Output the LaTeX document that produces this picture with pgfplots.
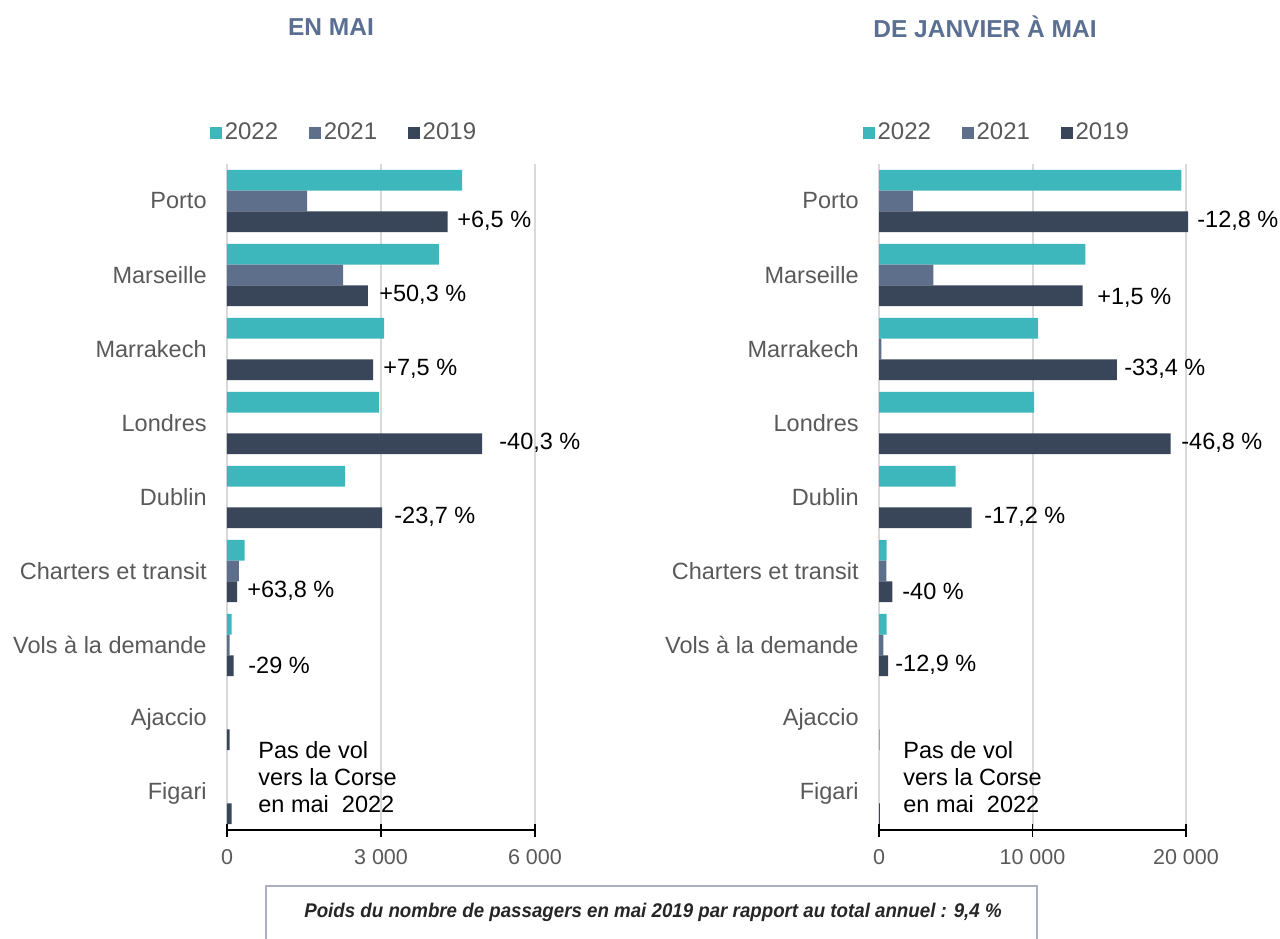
\documentclass[border=0pt]{standalone}
\usepackage{pgfplots}
\pgfplotsset{compat=1.18}
\usepackage{fontspec}
\setmainfont{Liberation Sans}
\definecolor{c22}{HTML}{3DB7BC}
\definecolor{c21}{HTML}{5E6F8B}
\definecolor{c19}{HTML}{394558}
\definecolor{ctitle}{HTML}{5A6F91}
\definecolor{cgray}{HTML}{595959}
\definecolor{cgrid}{HTML}{D9D9D9}
\definecolor{cbox}{HTML}{A9B1C2}
\pgfplotsset{
  mybar/.style={
    xbar, bar width=10.35pt, scale only axis, height=333pt,
    xmin=0, ymin=-0.5, ymax=8.5, ytick={0,...,8},
    yticklabels={Figari,Ajaccio,Vols à la demande,Charters et transit,Dublin,Londres,Marrakech,Marseille,Porto},
    axis lines*=left, y axis line style={draw=none},
    x axis line style={black, line width=0.85pt},
    xmajorgrids, grid style={cgrid, line width=1pt},
    ytick style={draw=none}, xtick style={black, line width=0.85pt},
    xtick align=center, major tick length=6.5pt, scaled x ticks=false,
    xticklabel style={font=\fontsize{10.75}{12}\selectfont, text=cgray, yshift=-3pt},
    yticklabel style={font=\fontsize{11.75}{13}\selectfont, text=cgray, inner sep=0pt, xshift=-3.5pt},
    clip=false,
    legend columns=3,
    legend style={draw=none, fill=none, font=\fontsize{12}{13}\selectfont, text=cgray,
      anchor=center, /tikz/every even column/.append style={column sep=14pt},
      nodes={inner sep=1.5pt}},
    legend image code/.code={\fill[##1] (0.5pt,-2.9pt) rectangle (6.3pt,2.9pt);},
    every axis plot/.append style={draw=none},
  },
}
\tikzset{lbl/.style={anchor=west, inner sep=0pt, font=\fontsize{11.75}{13}\selectfont, text=black}}
\begin{document}
\begin{tikzpicture}
\path[use as bounding box] (0,0) rectangle (640pt,-469pt);
% Titles
\node[font=\fontsize{12.25}{14}\selectfont\bfseries, text=ctitle] at (165.5pt,-13.5pt) {EN MAI};
\node[font=\fontsize{12.25}{14}\selectfont\bfseries, text=ctitle] at (492.5pt,-13.5pt) {DE JANVIER À MAI};

% Left axis
\begin{axis}[mybar, width=154pt, xmax=6000, xtick={0,3000,6000}, xticklabels={0,3 000,6 000},
  at={(113.5pt,-415pt)}, anchor=south west,
  legend style={at={(0.382,1.047)}}]
\addplot[fill=c22, bar shift=10.35pt] coordinates {(4580,8) (4130,7) (3060,6) (2960,5) (2300,4) (345,3) (88,2)};
\addplot[fill=c21, bar shift=0pt] coordinates {(1560,8) (2260,7) (230,3) (50,2)};
\addplot[fill=c19, bar shift=-10.35pt] coordinates {(4300,8) (2745,7) (2845,6) (4970,5) (3020,4) (195,3) (128,2) (50,1) (90,0)};
\legend{2022,2021,2019}
\node[lbl] at (axis cs:4481,7.73) {+6,5 \%};
\node[lbl] at (axis cs:2961,6.73) {+50,3 \%};
\node[lbl] at (axis cs:3039,5.73) {+7,5 \%};
\node[lbl] at (axis cs:5299,4.73) {-40,3 \%};
\node[lbl] at (axis cs:3253,3.73) {-23,7 \%};
\node[lbl] at (axis cs:390,2.73) {+63,8 \%};
\node[lbl] at (axis cs:409,1.73) {-29 \%};
\end{axis}

% Right axis
\begin{axis}[mybar, width=153.5pt, xmax=20000, xtick={0,10000,20000}, xticklabels={0,10 000,20 000},
  at={(439.5pt,-415pt)}, anchor=south west,
  legend style={at={(0.386,1.047)}}]
\addplot[fill=c22, bar shift=10.35pt] coordinates {(19700,8) (13450,7) (10360,6) (10100,5) (4990,4) (500,3) (500,2)};
\addplot[fill=c21, bar shift=0pt] coordinates {(2200,8) (3550,7) (150,6) (475,3) (290,2)};
\addplot[fill=c19, bar shift=-10.35pt] coordinates {(20130,8) (13270,7) (15500,6) (19000,5) (6040,4) (870,3) (590,2) (30,1) (60,0)};
\legend{2022,2021,2019}
\node[lbl] at (axis cs:20717,7.73) {-12,8 \%};
\node[lbl] at (axis cs:14202,6.69) {+1,5 \%};
\node[lbl] at (axis cs:15961,5.73) {-33,4 \%};
\node[lbl] at (axis cs:19674,4.73) {-46,8 \%};
\node[lbl] at (axis cs:6840,3.73) {-17,2 \%};
\node[lbl] at (axis cs:1498,2.73) {-40 \%};
\node[lbl] at (axis cs:1042,1.73) {-12,9 \%};
\end{axis}

% Annotations
\node[anchor=west, inner sep=0pt, align=left, font=\fontsize{11.75}{13.5}\selectfont] at (129pt,-388.5pt) {Pas de vol\\vers la Corse\\en mai~~2022};
\node[anchor=west, inner sep=0pt, align=left, font=\fontsize{11.75}{13.5}\selectfont] at (451.5pt,-388.5pt) {Pas de vol\\vers la Corse\\en mai~~2022};

% Footnote box
\draw[cbox, line width=0.6pt] (133pt,-470pt) -- (133pt,-443pt) -- (518.5pt,-443pt) -- (518.5pt,-470pt);
\node[font=\fontsize{9.9}{11}\selectfont\bfseries\itshape, text=black!85] at (326.5pt,-456pt) {\scalebox{0.945}[1]{Poids du nombre de passagers en mai 2019 par rapport au total annuel : 9,4 \%}};
\end{tikzpicture}
\end{document}
